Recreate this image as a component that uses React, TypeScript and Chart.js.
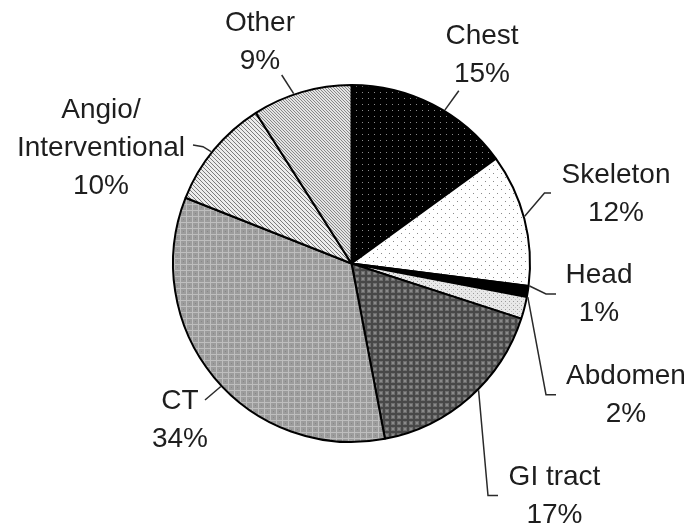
import React, { useEffect, useRef } from 'react';
import { Chart, registerables } from 'chart.js';

Chart.register(...registerables);

// ---- data ----
const categories = ['Chest', 'Skeleton', 'Head', 'Abdomen', 'GI tract', 'CT', 'Angio/Interventional', 'Other'];
const shares = [15, 12, 1, 2, 17, 34, 10, 9];
const labelLines = [['Chest'], ['Skeleton'], ['Head'], ['Abdomen'], ['GI tract'], ['CT'], ['Angio/', 'Interventional'], ['Other']];

// ---- label layout (text centre, first line middle; leader path from text towards slice) ----
const LABEL_LAYOUT = [
  { x: 482, y: 36.5, frac: 0.58, path: [[458.8, 90.7]] },
  { x: 616, y: 175, frac: 0.48, path: [[551, 193], [544.5, 193]] },
  { x: 599, y: 275, frac: 0.0, path: [[556, 294], [546, 294]] },
  { x: 626, y: 376, frac: 0.0, path: [[556, 394.7], [546, 394.7]] },
  { x: 554.5, y: 477, frac: 0.44, path: [[498, 495.6], [488, 495.6]] },
  { x: 180, y: 401.5, frac: 0.47, path: [[205, 400]] },
  { x: 101, y: 110, frac: 0.47, path: [[193, 145], [203, 146.7]] },
  { x: 260, y: 23, frac: 0.42, path: [[281.7, 75]] },
];
const LINE_GAP = 38;
const FONT = '28px "Liberation Sans", Arial, sans-serif';
const TEXT_COLOR = '#1e1e1e';

function makePattern(size: number, draw: (c: CanvasRenderingContext2D) => void): CanvasPattern | string {
  const cv = document.createElement('canvas');
  cv.width = size;
  cv.height = size;
  const c = cv.getContext('2d')!;
  draw(c);
  const ctx = document.createElement('canvas').getContext('2d')!;
  return ctx.createPattern(cv, 'repeat') || '#888';
}

function buildPatterns() {
  const chest = makePattern(6, (c) => {
    c.fillStyle = '#000';
    c.fillRect(0, 0, 6, 6);
    c.fillStyle = '#8a8a8a';
    c.fillRect(2, 2, 1, 1);
  });
  const skeleton = makePattern(8, (c) => {
    c.fillStyle = '#fff';
    c.fillRect(0, 0, 8, 8);
    c.fillStyle = '#8a8a8a';
    c.fillRect(1, 1, 1, 1);
    c.fillRect(5, 5, 1, 1);
  });
  const head = '#000';
  const abdomen = makePattern(4, (c) => {
    c.fillStyle = '#e8e8e8';
    c.fillRect(0, 0, 4, 4);
    c.fillStyle = '#9a9a9a';
    c.fillRect(1, 1, 1, 1);
    c.fillStyle = '#c0c0c0';
    c.fillRect(3, 3, 1, 1);
  });
  const gi = makePattern(6, (c) => {
    c.fillStyle = '#484848';
    c.fillRect(0, 0, 6, 6);
    c.fillStyle = '#6e6e6e';
    c.fillRect(1, 1, 4, 4);
    c.fillStyle = '#8a8a8a';
    c.fillRect(2, 2, 2, 2);
  });
  const ct = makePattern(6, (c) => {
    c.fillStyle = '#9c9c9c';
    c.fillRect(0, 0, 6, 6);
    c.fillStyle = '#bebebe';
    c.fillRect(0, 0, 6, 1);
    c.fillRect(0, 0, 1, 6);
    c.fillStyle = '#888888';
    c.fillRect(3, 3, 1, 1);
  });
  const angio = makePattern(4, (c) => {
    c.fillStyle = '#ececec';
    c.fillRect(0, 0, 4, 4);
    c.fillStyle = '#7a7a7a';
    for (let i = 0; i < 4; i++) c.fillRect(i, i, 1, 1);
  });
  const other = makePattern(3, (c) => {
    c.fillStyle = '#e4e4e4';
    c.fillRect(0, 0, 3, 3);
    c.fillStyle = '#888';
    for (let i = 0; i < 3; i++) c.fillRect(i, i, 1, 1);
  });
  return [chest, skeleton, head, abdomen, gi, ct, angio, other];
}

const labelPlugin = {
  id: 'outerLabels',
  afterDraw(chart: any) {
    const ctx: CanvasRenderingContext2D = chart.ctx;
    const meta = chart.getDatasetMeta(0);
    ctx.save();
    ctx.font = FONT;
    ctx.fillStyle = TEXT_COLOR;
    ctx.textAlign = 'center';
    ctx.textBaseline = 'middle';
    meta.data.forEach((arc: any, i: number) => {
      const lay = LABEL_LAYOUT[i];
      const lines = [...labelLines[i], shares[i] + '%'];
      lines.forEach((t, k) => ctx.fillText(t, lay.x, lay.y + k * LINE_GAP));
      const p = arc.getProps(['x', 'y', 'startAngle', 'endAngle', 'outerRadius'], true);
      const a = p.startAngle + (p.endAngle - p.startAngle) * lay.frac;
      const r = p.outerRadius + 1;
      const ax = p.x + r * Math.cos(a);
      const ay = p.y + r * Math.sin(a);
      ctx.beginPath();
      ctx.strokeStyle = '#2a2a2a';
      ctx.lineWidth = 1.5;
      lay.path.forEach((pt, k) => (k === 0 ? ctx.moveTo(pt[0], pt[1]) : ctx.lineTo(pt[0], pt[1])));
      ctx.lineTo(ax, ay);
      ctx.stroke();
    });
    ctx.restore();
  },
};

export default function App() {
  const ref = useRef<HTMLCanvasElement | null>(null);
  useEffect(() => {
    if (!ref.current) return;
    const chart = new Chart(ref.current, {
      type: 'pie',
      data: {
        labels: categories,
        datasets: [
          {
            data: shares,
            backgroundColor: buildPatterns() as any,
            borderColor: '#000',
            borderWidth: 2,
          },
        ],
      },
      options: {
        responsive: false,
        animation: false,
        layout: { padding: { left: 172, right: 158, top: 84, bottom: 81 } },
        plugins: { legend: { display: false }, tooltip: { enabled: false } },
      },
      plugins: [labelPlugin],
    });
    return () => chart.destroy();
  }, []);
  return (
    <div style={{ position: 'fixed', left: 0, top: 0, width: 689, height: 524, background: '#fff' }}>
      <canvas ref={ref} width={689} height={524} style={{ width: 689, height: 524 }} />
    </div>
  );
}
